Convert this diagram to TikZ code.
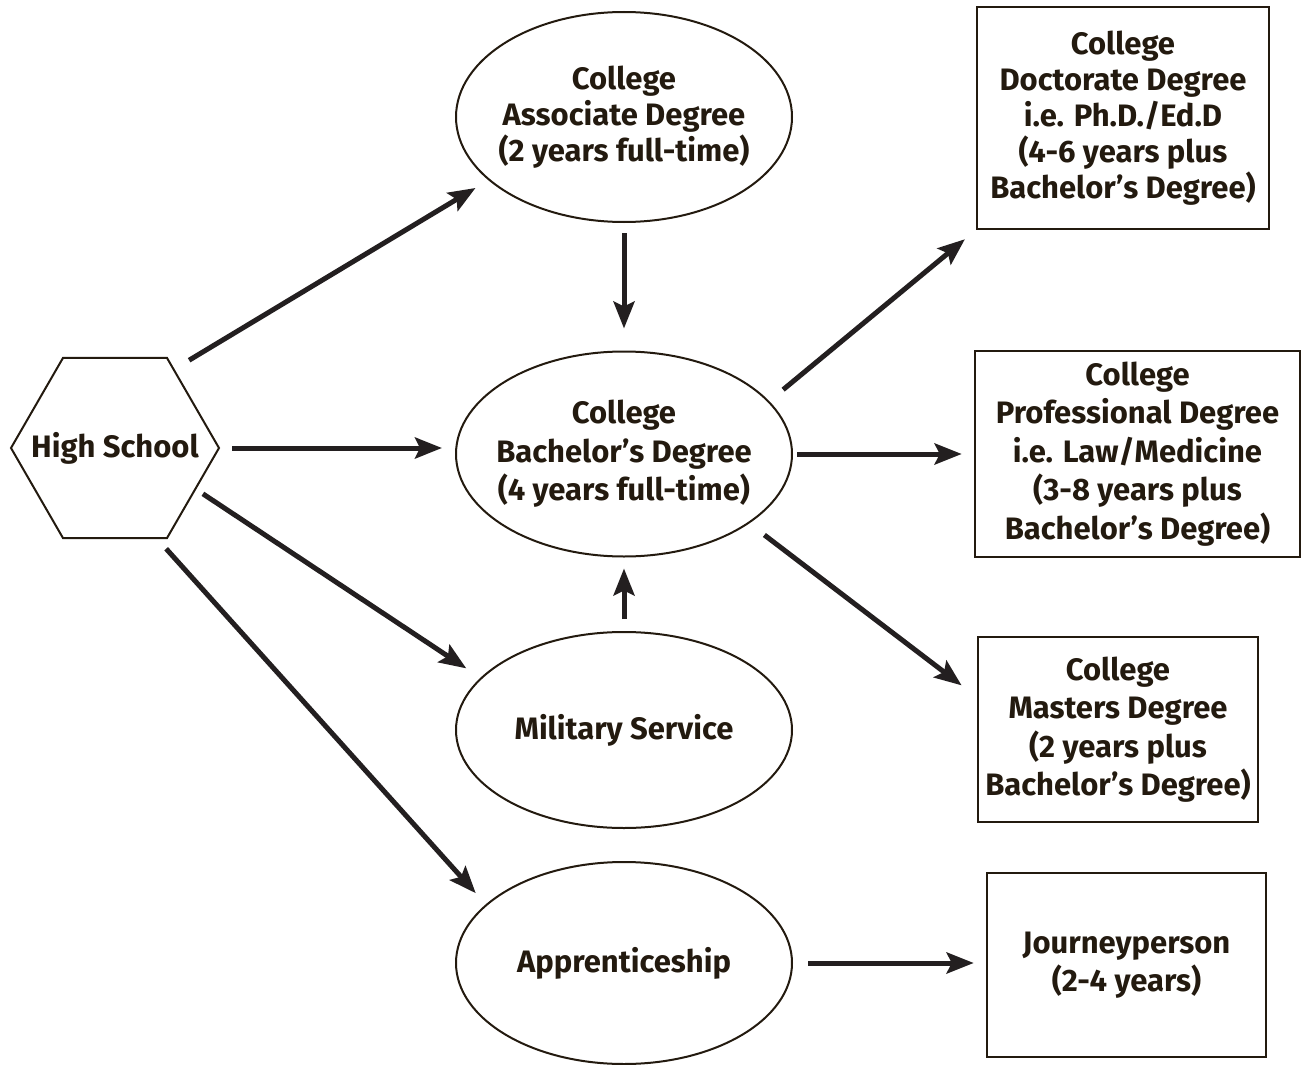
\documentclass[tikz,border=0pt]{standalone}
\usepackage{fontspec}
\setmainfont{Fira Sans}
\usetikzlibrary{arrows.meta}
\usetikzlibrary{shapes.geometric}
\definecolor{inkbrown}{HTML}{231A0F}
\definecolor{arrowgray}{HTML}{231F20}
\tikzset{
  base/.style={draw=inkbrown,text=inkbrown,align=center,inner sep=0pt,
               font=\bfseries\fontsize{31}{38.5}\selectfont},
  tight/.style={font=\bfseries\fontsize{31}{36}\selectfont},
  hexnode/.style={base,regular polygon,regular polygon sides=6,inner sep=-40pt,
                  minimum size=208pt,line width=2pt},
  oval/.style={base,ellipse,minimum width=336pt,inner xsep=-25pt,line width=2pt},
  degbox/.style={base,rectangle,line width=2.6pt},
  arr/.style={draw=arrowgray,line width=5pt,
              -{Stealth[length=27pt,width=21pt,inset=5pt]}}
}

\begin{document}
\begin{tikzpicture}[x=1pt,y=-1pt]
  \useasboundingbox (0,0) rectangle (1302,1065);

  % START
  \node[hexnode] (hs) at (115,448) {High School};

  % MIDDLE COLUMN
  \node[oval,tight,minimum height=210pt] (assoc) at (624,117)
    {College\\Associate Degree\\(2 years full-time)};
  \node[oval,minimum height=205pt] (bach) at (624,454)
    {College\\Bachelor’s Degree\\(4 years full-time)};
  \node[oval,minimum height=196pt] (mil) at (624,730) {Military Service};
  \node[oval,minimum height=202pt] (app) at (624,963) {Apprenticeship};

  % RIGHT COLUMN
  \node[degbox,tight,minimum width=292pt,minimum height=222pt] (doc) at (1123,118)
    {College\\Doctorate Degree\\i.e. Ph.D./Ed.D\\(4-6 years plus\\Bachelor’s Degree)};
  \node[degbox,minimum width=325pt,minimum height=206pt] (prof) at (1137.5,454)
    {College\\Professional Degree\\i.e. Law/Medicine\\(3-8 years plus\\Bachelor’s Degree)};
  \node[degbox,minimum width=280pt,minimum height=185pt] (mas) at (1118,729.5)
    {College\\Masters Degree\\(2 years plus\\Bachelor’s Degree)};
  \node[degbox,minimum width=279pt,minimum height=184pt] (jour) at (1126.5,965)
    {Journeyperson\\(2-4 years)};

  % ARROWS
  \draw[arr,shorten <=17pt,shorten >=15pt] (hs.53) -- (assoc.205);
  \draw[arr,shorten <=12pt,shorten >=13pt] (hs.east) -- (hs.east -| bach.west);
  \draw[arr,shorten <=8pt,shorten >=17pt] (hs.-27) -- (mil.160);
  \draw[arr,shorten <=13pt,shorten >=15pt] (hs.-65) -- (app.157);
  \draw[arr,shorten <=10pt,shorten >=22pt] (assoc.south) -- (bach.north);
  \draw[arr,shorten <=12pt,shorten >=11pt] (mil.north) -- (bach.south);
  \draw[arr,shorten <=18pt,shorten >=14pt] (bach.20) -- (doc.south west);
  \draw[arr,shorten <=4pt,shorten >=12pt] (bach.east) -- (prof.west);
  \draw[arr,shorten <=19pt,shorten >=19pt] (bach.-29) -- (mas.167);
  \draw[arr,shorten <=15pt,shorten >=12pt] (app.east) -- (app.east -| jour.west);

\end{tikzpicture}
\end{document}
